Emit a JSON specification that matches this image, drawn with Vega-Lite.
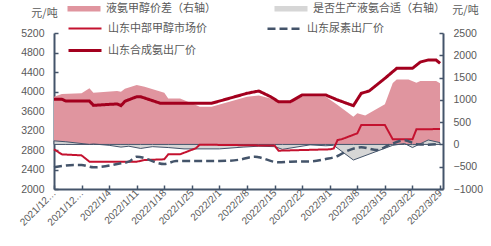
{
  "$schema": "https://vega.github.io/schema/vega-lite/v6.json",
  "width": 389,
  "height": 156,
  "autosize": "none",
  "padding": {"left": 54, "top": 33, "right": 48, "bottom": 57},
  "background": "white",
  "data": {"values": [
    {"date": "2021-12-21", "series": "液氨甲醇价差（右轴）", "value": 1069},
    {"date": "2021-12-23", "series": "液氨甲醇价差（右轴）", "value": 1130},
    {"date": "2021-12-28", "series": "液氨甲醇价差（右轴）", "value": 1146},
    {"date": "2021-12-30", "series": "液氨甲醇价差（右轴）", "value": 1258},
    {"date": "2021-12-31", "series": "液氨甲醇价差（右轴）", "value": 1159},
    {"date": "2022-01-06", "series": "液氨甲醇价差（右轴）", "value": 1197},
    {"date": "2022-01-07", "series": "液氨甲醇价差（右轴）", "value": 1180},
    {"date": "2022-01-08", "series": "液氨甲醇价差（右轴）", "value": 1250},
    {"date": "2022-01-11", "series": "液氨甲醇价差（右轴）", "value": 1332},
    {"date": "2022-01-13", "series": "液氨甲醇价差（右轴）", "value": 1294},
    {"date": "2022-01-18", "series": "液氨甲醇价差（右轴）", "value": 1159},
    {"date": "2022-01-19", "series": "液氨甲醇价差（右轴）", "value": 1033},
    {"date": "2022-01-22", "series": "液氨甲醇价差（右轴）", "value": 1033},
    {"date": "2022-01-26", "series": "液氨甲醇价差（右轴）", "value": 883},
    {"date": "2022-01-27", "series": "液氨甲醇价差（右轴）", "value": 845},
    {"date": "2022-01-30", "series": "液氨甲醇价差（右轴）", "value": 845},
    {"date": "2022-02-08", "series": "液氨甲醇价差（右轴）", "value": 1069},
    {"date": "2022-02-11", "series": "液氨甲醇价差（右轴）", "value": 1100},
    {"date": "2022-02-14", "series": "液氨甲醇价差（右轴）", "value": 1033},
    {"date": "2022-02-16", "series": "液氨甲醇价差（右轴）", "value": 958},
    {"date": "2022-02-19", "series": "液氨甲醇价差（右轴）", "value": 958},
    {"date": "2022-02-22", "series": "液氨甲醇价差（右轴）", "value": 1069},
    {"date": "2022-02-28", "series": "液氨甲醇价差（右轴）", "value": 1069},
    {"date": "2022-03-03", "series": "液氨甲醇价差（右轴）", "value": 883},
    {"date": "2022-03-07", "series": "液氨甲醇价差（右轴）", "value": 621},
    {"date": "2022-03-08", "series": "液氨甲醇价差（右轴）", "value": 697},
    {"date": "2022-03-10", "series": "液氨甲醇价差（右轴）", "value": 650},
    {"date": "2022-03-11", "series": "液氨甲醇价差（右轴）", "value": 700},
    {"date": "2022-03-15", "series": "液氨甲醇价差（右轴）", "value": 900},
    {"date": "2022-03-17", "series": "液氨甲醇价差（右轴）", "value": 1380},
    {"date": "2022-03-18", "series": "液氨甲醇价差（右轴）", "value": 1459},
    {"date": "2022-03-21", "series": "液氨甲醇价差（右轴）", "value": 1459},
    {"date": "2022-03-23", "series": "液氨甲醇价差（右轴）", "value": 1383},
    {"date": "2022-03-24", "series": "液氨甲醇价差（右轴）", "value": 1421},
    {"date": "2022-03-28", "series": "液氨甲醇价差（右轴）", "value": 1421},
    {"date": "2022-03-29", "series": "液氨甲醇价差（右轴）", "value": 1370},

    {"date": "2021-12-21", "series": "是否生产液氨合适（右轴）", "value": 80},
    {"date": "2021-12-24", "series": "是否生产液氨合适（右轴）", "value": 60},
    {"date": "2021-12-30", "series": "是否生产液氨合适（右轴）", "value": 0},
    {"date": "2021-12-31", "series": "是否生产液氨合适（右轴）", "value": 10},
    {"date": "2022-01-04", "series": "是否生产液氨合适（右轴）", "value": -20},
    {"date": "2022-01-07", "series": "是否生产液氨合适（右轴）", "value": -60},
    {"date": "2022-01-09", "series": "是否生产液氨合适（右轴）", "value": -40},
    {"date": "2022-01-12", "series": "是否生产液氨合适（右轴）", "value": -90},
    {"date": "2022-01-15", "series": "是否生产液氨合适（右轴）", "value": -50},
    {"date": "2022-01-19", "series": "是否生产液氨合适（右轴）", "value": -70},
    {"date": "2022-01-23", "series": "是否生产液氨合适（右轴）", "value": -100},
    {"date": "2022-02-01", "series": "是否生产液氨合适（右轴）", "value": -100},
    {"date": "2022-02-07", "series": "是否生产液氨合适（右轴）", "value": -60},
    {"date": "2022-02-11", "series": "是否生产液氨合适（右轴）", "value": -40},
    {"date": "2022-02-15", "series": "是否生产液氨合适（右轴）", "value": -50},
    {"date": "2022-02-17", "series": "是否生产液氨合适（右轴）", "value": -110},
    {"date": "2022-02-24", "series": "是否生产液氨合适（右轴）", "value": -10},
    {"date": "2022-02-28", "series": "是否生产液氨合适（右轴）", "value": -30},
    {"date": "2022-03-02", "series": "是否生产液氨合适（右轴）", "value": -20},
    {"date": "2022-03-07", "series": "是否生产液氨合适（右轴）", "value": -350},
    {"date": "2022-03-17", "series": "是否生产液氨合适（右轴）", "value": -20},
    {"date": "2022-03-20", "series": "是否生产液氨合适（右轴）", "value": 20},
    {"date": "2022-03-22", "series": "是否生产液氨合适（右轴）", "value": -70},
    {"date": "2022-03-26", "series": "是否生产液氨合适（右轴）", "value": 100},
    {"date": "2022-03-29", "series": "是否生产液氨合适（右轴）", "value": 40},

    {"date": "2021-12-21", "series": "山东中部甲醇市场价", "value": 2814},
    {"date": "2021-12-23", "series": "山东中部甲醇市场价", "value": 2710},
    {"date": "2021-12-28", "series": "山东中部甲醇市场价", "value": 2690},
    {"date": "2021-12-30", "series": "山东中部甲醇市场价", "value": 2560},
    {"date": "2022-01-11", "series": "山东中部甲醇市场价", "value": 2560},
    {"date": "2022-01-13", "series": "山东中部甲醇市场价", "value": 2595},
    {"date": "2022-01-18", "series": "山东中部甲醇市场价", "value": 2609},
    {"date": "2022-01-19", "series": "山东中部甲醇市场价", "value": 2712},
    {"date": "2022-01-22", "series": "山东中部甲醇市场价", "value": 2712},
    {"date": "2022-01-26", "series": "山东中部甲醇市场价", "value": 2835},
    {"date": "2022-01-27", "series": "山东中部甲醇市场价", "value": 2910},
    {"date": "2022-02-15", "series": "山东中部甲醇市场价", "value": 2890},
    {"date": "2022-02-16", "series": "山东中部甲醇市场价", "value": 2786},
    {"date": "2022-03-01", "series": "山东中部甲醇市场价", "value": 2814},
    {"date": "2022-03-02", "series": "山东中部甲醇市场价", "value": 2830},
    {"date": "2022-03-03", "series": "山东中部甲醇市场价", "value": 3005},
    {"date": "2022-03-04", "series": "山东中部甲醇市场价", "value": 3020},
    {"date": "2022-03-08", "series": "山东中部甲醇市场价", "value": 3142},
    {"date": "2022-03-09", "series": "山东中部甲醇市场价", "value": 3313},
    {"date": "2022-03-15", "series": "山东中部甲醇市场价", "value": 3313},
    {"date": "2022-03-17", "series": "山东中部甲醇市场价", "value": 3019},
    {"date": "2022-03-22", "series": "山东中部甲醇市场价", "value": 3019},
    {"date": "2022-03-23", "series": "山东中部甲醇市场价", "value": 3224},
    {"date": "2022-03-29", "series": "山东中部甲醇市场价", "value": 3230},

    {"date": "2021-12-21", "series": "山东尿素出厂价", "value": 2445},
    {"date": "2021-12-26", "series": "山东尿素出厂价", "value": 2492},
    {"date": "2021-12-28", "series": "山东尿素出厂价", "value": 2492},
    {"date": "2021-12-31", "series": "山东尿素出厂价", "value": 2445},
    {"date": "2022-01-07", "series": "山东尿素出厂价", "value": 2527},
    {"date": "2022-01-09", "series": "山东尿素出厂价", "value": 2560},
    {"date": "2022-01-11", "series": "山东尿素出厂价", "value": 2663},
    {"date": "2022-01-18", "series": "山东尿素出厂价", "value": 2513},
    {"date": "2022-01-21", "series": "山东尿素出厂价", "value": 2574},
    {"date": "2022-02-01", "series": "山东尿素出厂价", "value": 2574},
    {"date": "2022-02-06", "series": "山东尿素出厂价", "value": 2600},
    {"date": "2022-02-10", "series": "山东尿素出厂价", "value": 2663},
    {"date": "2022-02-11", "series": "山东尿素出厂价", "value": 2650},
    {"date": "2022-02-16", "series": "山东尿素出厂价", "value": 2547},
    {"date": "2022-02-19", "series": "山东尿素出厂价", "value": 2560},
    {"date": "2022-02-24", "series": "山东尿素出厂价", "value": 2565},
    {"date": "2022-02-28", "series": "山东尿素出厂价", "value": 2615},
    {"date": "2022-03-03", "series": "山东尿素出厂价", "value": 2677},
    {"date": "2022-03-05", "series": "山东尿素出厂价", "value": 2765},
    {"date": "2022-03-09", "series": "山东尿素出厂价", "value": 2855},
    {"date": "2022-03-13", "series": "山东尿素出厂价", "value": 2800},
    {"date": "2022-03-16", "series": "山东尿素出厂价", "value": 2900},
    {"date": "2022-03-20", "series": "山东尿素出厂价", "value": 3000},
    {"date": "2022-03-23", "series": "山东尿素出厂价", "value": 2920},
    {"date": "2022-03-26", "series": "山东尿素出厂价", "value": 2910},
    {"date": "2022-03-29", "series": "山东尿素出厂价", "value": 2925},

    {"date": "2021-12-21", "series": "山东合成氨出厂价", "value": 3840},
    {"date": "2021-12-23", "series": "山东合成氨出厂价", "value": 3840},
    {"date": "2021-12-24", "series": "山东合成氨出厂价", "value": 3805},
    {"date": "2021-12-30", "series": "山东合成氨出厂价", "value": 3805},
    {"date": "2021-12-31", "series": "山东合成氨出厂价", "value": 3716},
    {"date": "2022-01-06", "series": "山东合成氨出厂价", "value": 3745},
    {"date": "2022-01-07", "series": "山东合成氨出厂价", "value": 3710},
    {"date": "2022-01-08", "series": "山东合成氨出厂价", "value": 3800},
    {"date": "2022-01-11", "series": "山东合成氨出厂价", "value": 3893},
    {"date": "2022-01-12", "series": "山东合成氨出厂价", "value": 3893},
    {"date": "2022-01-17", "series": "山东合成氨出厂价", "value": 3758},
    {"date": "2022-01-30", "series": "山东合成氨出厂价", "value": 3758},
    {"date": "2022-02-08", "series": "山东合成氨出厂价", "value": 3963},
    {"date": "2022-02-11", "series": "山东合成氨出厂价", "value": 4010},
    {"date": "2022-02-14", "series": "山东合成氨出厂价", "value": 3893},
    {"date": "2022-02-16", "series": "山东合成氨出厂价", "value": 3791},
    {"date": "2022-02-19", "series": "山东合成氨出厂价", "value": 3791},
    {"date": "2022-02-22", "series": "山东合成氨出厂价", "value": 3928},
    {"date": "2022-02-28", "series": "山东合成氨出厂价", "value": 3928},
    {"date": "2022-03-03", "series": "山东合成氨出厂价", "value": 3825},
    {"date": "2022-03-07", "series": "山东合成氨出厂价", "value": 3709},
    {"date": "2022-03-09", "series": "山东合成氨出厂价", "value": 3963},
    {"date": "2022-03-11", "series": "山东合成氨出厂价", "value": 4010},
    {"date": "2022-03-15", "series": "山东合成氨出厂价", "value": 4270},
    {"date": "2022-03-18", "series": "山东合成氨出厂价", "value": 4475},
    {"date": "2022-03-22", "series": "山东合成氨出厂价", "value": 4475},
    {"date": "2022-03-24", "series": "山东合成氨出厂价", "value": 4605},
    {"date": "2022-03-26", "series": "山东合成氨出厂价", "value": 4646},
    {"date": "2022-03-28", "series": "山东合成氨出厂价", "value": 4646},
    {"date": "2022-03-29", "series": "山东合成氨出厂价", "value": 4578}
  ]},
  "encoding": {
    "x": {
      "field": "date", "type": "temporal",
      "scale": {"type": "utc", "domain": [{"year": 2021, "month": 12, "date": 21, "utc": true}, {"year": 2022, "month": 3, "date": 29, "hours": 18, "utc": true}]},
      "axis": {
        "title": null,
        "values": [
          {"year": 2021, "month": 12, "date": 21, "utc": true},
          {"year": 2021, "month": 12, "date": 28, "utc": true},
          {"year": 2022, "month": 1, "date": 4, "utc": true},
          {"year": 2022, "month": 1, "date": 11, "utc": true},
          {"year": 2022, "month": 1, "date": 18, "utc": true},
          {"year": 2022, "month": 1, "date": 25, "utc": true},
          {"year": 2022, "month": 2, "date": 1, "utc": true},
          {"year": 2022, "month": 2, "date": 8, "utc": true},
          {"year": 2022, "month": 2, "date": 15, "utc": true},
          {"year": 2022, "month": 2, "date": 22, "utc": true},
          {"year": 2022, "month": 3, "date": 1, "utc": true},
          {"year": 2022, "month": 3, "date": 8, "utc": true},
          {"year": 2022, "month": 3, "date": 15, "utc": true},
          {"year": 2022, "month": 3, "date": 22, "utc": true},
          {"year": 2022, "month": 3, "date": 29, "utc": true}
        ],
        "labelExpr": "utcyear(datum.value) == 2021 ? '2021/12…' : utcFormat(datum.value, '%Y/%-m/%-d')",
        "labelAngle": -45,
        "labelAlign": "right",
        "labelBaseline": "middle",
        "labelPadding": 6,
        "labelFontSize": 10,
        "labelOverlap": false,
        "labelBound": false,
        "labelFlush": false
      }
    }
  },
  "layer": [
    {
      "encoding": {
        "y": {
          "field": "value", "type": "quantitative",
          "scale": {"domain": [-1000, 2500], "nice": false, "zero": false},
          "axis": {
            "orient": "right",
            "values": [-1000, -500, 0, 500, 1000, 1500, 2000, 2500],
            "format": "d",
            "labelPadding": 14,
            "title": "元/吨",
            "titleAngle": 0,
            "titleX": 22,
            "titleY": -23,
            "titleAlign": "center",
            "titleBaseline": "middle"
          }
        }
      },
      "layer": [
        {
          "transform": [{"filter": "datum.series == '液氨甲醇价差（右轴）'"}],
          "mark": {"type": "area", "opacity": 1},
          "encoding": {
            "y": {"field": "value", "type": "quantitative", "stack": null},
            "fill": {
              "field": "series", "type": "nominal",
              "scale": {"domain": ["液氨甲醇价差（右轴）", "是否生产液氨合适（右轴）"], "range": ["#e0959f", "#d6d6d6"]},
              "legend": {
                "title": null, "orient": "none", "direction": "horizontal", "legendX": 24.5, "legendY": -30,
                "columns": 2, "columnPadding": 58,
                "symbolType": "M-3.3,-0.55H3.3V0.55H-3.3Z", "symbolSize": 100, "symbolStrokeWidth": 1,
                "labelOffset": 16.5,
                "encode": {"symbols": {"update": {"stroke": {"signal": "datum.value == '是否生产液氨合适（右轴）' ? '#44546a' : '#e0959f'"}, "strokeWidth": {"value": 1}}}}
              }
            }
          }
        },
        {
          "transform": [{"filter": "datum.series == '是否生产液氨合适（右轴）'"}],
          "mark": {"type": "area", "opacity": 1, "stroke": "#44546a", "strokeWidth": 1},
          "encoding": {
            "y": {"field": "value", "type": "quantitative", "stack": null},
            "fill": {"field": "series", "type": "nominal"}
          }
        }
      ]
    },
    {
      "encoding": {
        "y": {
          "field": "value", "type": "quantitative",
          "scale": {"domain": [2000, 5200], "nice": false, "zero": false},
          "axis": {
            "orient": "left",
            "values": [2000, 2400, 2800, 3200, 3600, 4000, 4400, 4800, 5200],
            "format": "d",
            "labelPadding": 14,
            "title": "元/吨",
            "titleAngle": 0,
            "titleX": -10,
            "titleY": -20,
            "titleAlign": "center",
            "titleBaseline": "middle"
          }
        },
        "stroke": {
          "field": "series", "type": "nominal",
          "scale": {"domain": ["山东中部甲醇市场价", "山东尿素出厂价", "山东合成氨出厂价"], "range": ["#c4122f", "#44546a", "#a3001e"]},
          "legend": {"title": null, "orient": "none", "direction": "horizontal", "legendX": 24.5, "legendY": -11, "columns": 2, "columnPadding": 55, "rowPadding": 10, "symbolType": "M-3.3,0H3.3", "symbolSize": 100, "labelOffset": 16.5}
        },
        "strokeDash": {
          "field": "series", "type": "nominal",
          "scale": {"domain": ["山东中部甲醇市场价", "山东尿素出厂价", "山东合成氨出厂价"], "range": [[1, 0], [8, 4], [1, 0]]},
          "legend": {"title": null, "orient": "none", "direction": "horizontal", "legendX": 24.5, "legendY": -11, "columns": 2, "columnPadding": 55, "rowPadding": 10, "symbolType": "M-3.3,0H3.3", "symbolSize": 100, "labelOffset": 16.5}
        },
        "strokeWidth": {
          "field": "series", "type": "nominal",
          "scale": {"domain": ["山东中部甲醇市场价", "山东尿素出厂价", "山东合成氨出厂价"], "range": [2, 3, 3.5]},
          "legend": {"title": null, "orient": "none", "direction": "horizontal", "legendX": 24.5, "legendY": -11, "columns": 2, "columnPadding": 55, "rowPadding": 10, "symbolType": "M-3.3,0H3.3", "symbolSize": 100, "labelOffset": 16.5}
        }
      },
      "layer": [
        {
          "transform": [{"filter": "datum.series == '山东中部甲醇市场价' || datum.series == '山东合成氨出厂价'"}],
          "mark": {"type": "line"}
        },
        {
          "transform": [{"filter": "datum.series == '山东尿素出厂价'"}],
          "mark": {"type": "line", "interpolate": "monotone"}
        }
      ]
    }
  ],
  "resolve": {"scale": {"y": "independent"}},
  "config": {
    "view": {"stroke": null},
    "axis": {
      "grid": false,
      "domainColor": "#44546a",
      "domainWidth": 2,
      "tickColor": "#44546a",
      "tickWidth": 1.5,
      "tickSize": -4,
      "labelColor": "#595959",
      "labelFont": "Liberation Sans",
      "labelFontSize": 10.5,
      "titleFont": "Noto Sans CJK SC",
      "titleFontSize": 11,
      "titleFontWeight": "normal",
      "titleColor": "#595959"
    },
    "legend": {
      "labelFont": "Noto Sans CJK SC",
      "labelFontSize": 11,
      "labelColor": "#595959",
      "padding": 0,
      "labelLimit": 300
    }
  }
}
